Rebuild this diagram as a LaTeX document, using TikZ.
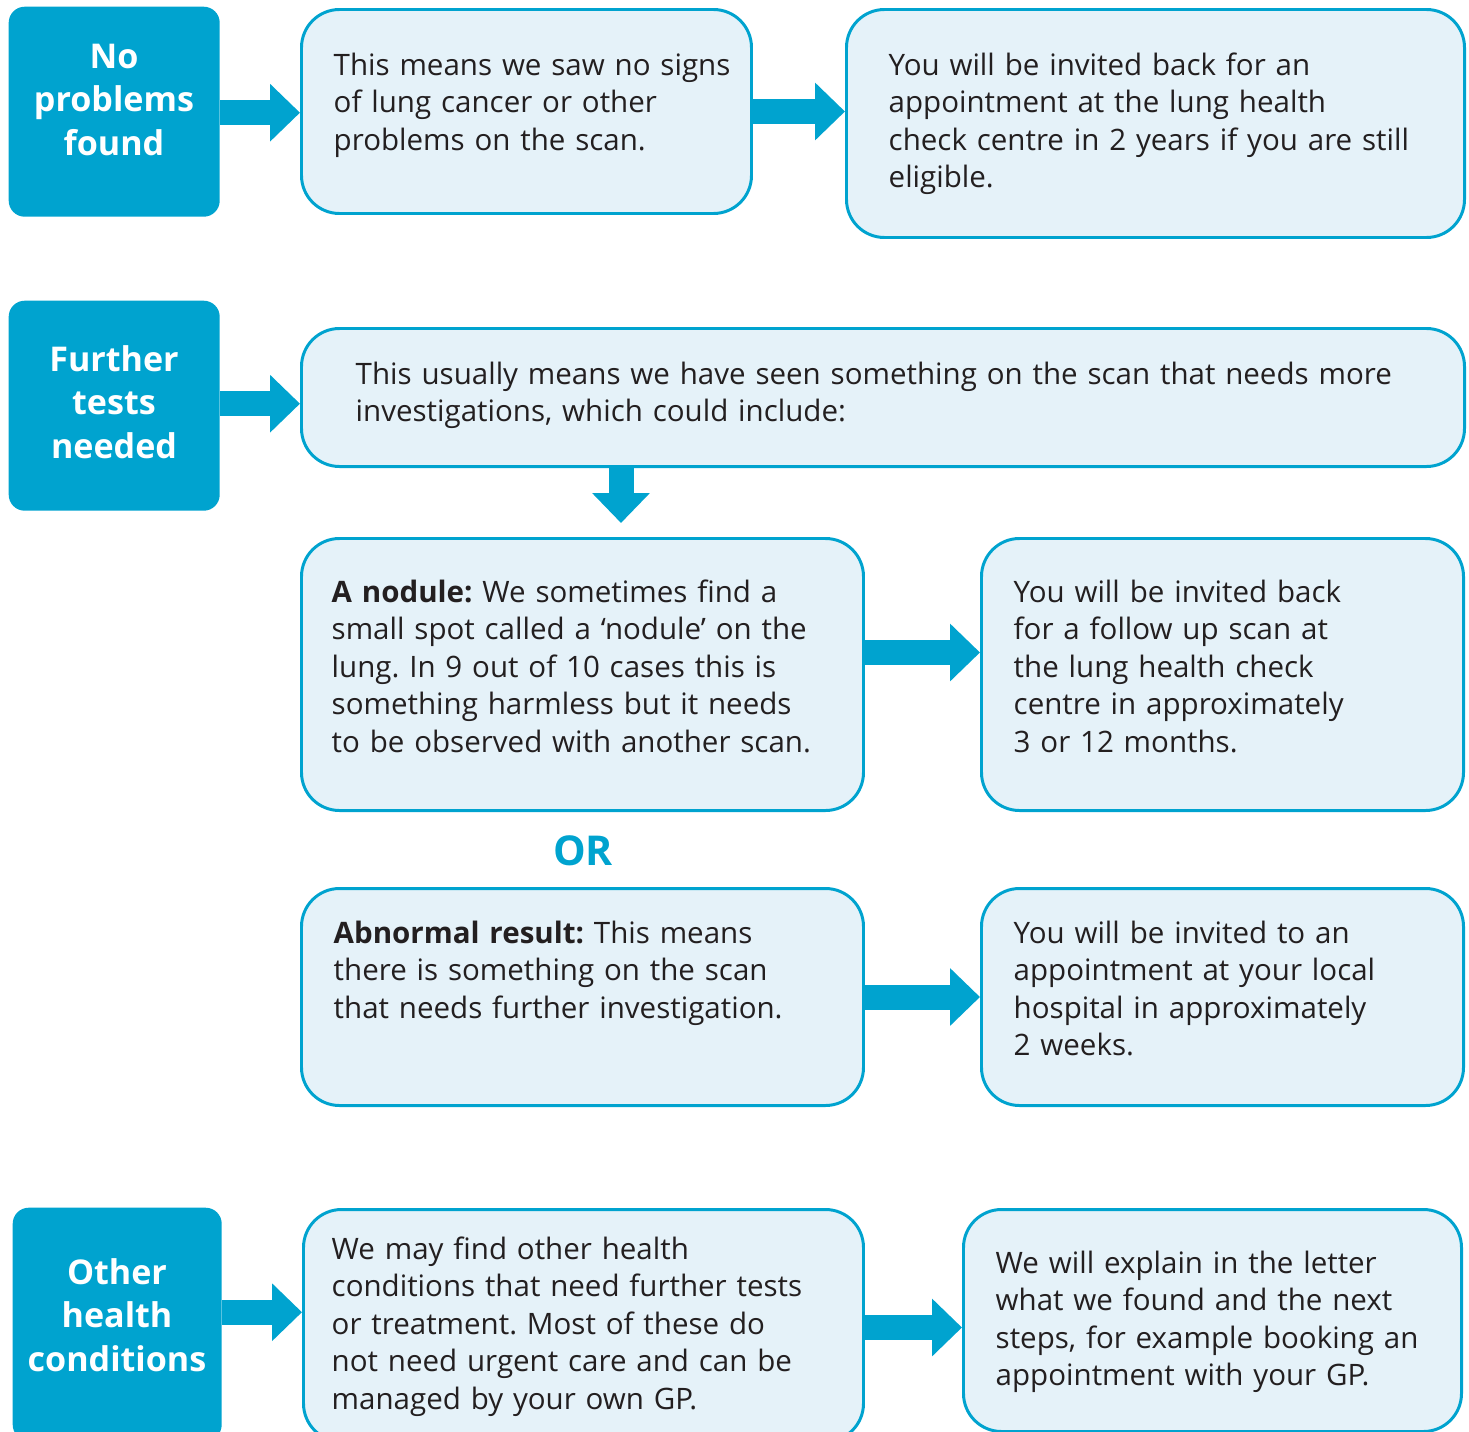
\documentclass[tikz,border=0pt]{standalone}
\usepackage{fontspec}
\setmainfont{Open Sans}
\frenchspacing
\usetikzlibrary{arrows.meta}
\definecolor{nhsblue}{RGB}{0,163,207}
\definecolor{nhspale}{RGB}{229,242,249}
\definecolor{ink}{RGB}{35,31,32}
\tikzset{
	lead/.style={fill=nhsblue, rounded corners=0.16cm, anchor=north west, inner sep=0pt},
	info/.style={draw=nhsblue, fill=nhspale, line width=0.85pt, rounded corners=0.38cm, anchor=north west, inner sep=0pt},
	leadtxt/.style={text=white, text width=2.05cm, align=center, anchor=base, inner sep=0pt, font=\fontsize{9.7}{12.4}\selectfont\bfseries},
	txt/.style={text=ink, align=left, anchor=base west, inner sep=0pt, font=\fontsize{8.4}{10.67}\selectfont},
	fat/.style={draw=nhsblue, line width=0.25cm, -{Triangle[length=0.30cm,width=0.56cm]}}
}
\begin{document}
\begin{tikzpicture}
		\clip (0,0) rectangle (14.69,-14.31);
		% row 1
		\node[lead, minimum width=2.11cm, minimum height=2.10cm] (d1) at (0.08,-0.06) {};
		\node[info, minimum width=4.50cm, minimum height=2.04cm] (b1) at (3.00,-0.08) {};
		\node[info, minimum width=6.18cm, minimum height=2.28cm] (b2) at (8.45,-0.08) {};
		% row 2
		\node[lead, minimum width=2.11cm, minimum height=2.10cm] (d2) at (0.08,-3.00) {};
		\node[info, minimum width=11.63cm, minimum height=1.38cm] (b3) at (3.00,-3.27) {};
		\node[info, minimum width=5.62cm, minimum height=2.72cm] (b4) at (3.00,-5.37) {};
		\node[info, minimum width=4.82cm, minimum height=2.72cm] (b5) at (9.80,-5.37) {};
		\node[info, minimum width=5.62cm, minimum height=2.17cm] (b6) at (3.00,-8.87) {};
		\node[info, minimum width=4.82cm, minimum height=2.17cm] (b7) at (9.80,-8.87) {};
		% row 3
		\node[lead, minimum width=2.09cm, minimum height=2.33cm] (d3) at (0.12,-12.07) {};
		\node[info, minimum width=5.60cm, minimum height=2.32cm] (b8) at (3.02,-12.08) {};
		\node[info, minimum width=4.98cm, minimum height=2.22cm] (b9) at (9.62,-12.08) {};

		% labels
		\node[leadtxt] (l1) at (1.14,-0.68) {No\\ problems\\ found};
		\node[leadtxt] (l2) at (1.14,-3.71) {Further\\ tests\\ needed};
		\node[leadtxt] (l3) at (1.17,-12.84) {Other\\ health\\ conditions};
		\node[text=nhsblue, font=\fontsize{11.7}{14}\selectfont\bfseries, anchor=base, inner sep=0pt] (or) at (5.83,-8.65) {OR};

		\node[txt, text width=4.10cm] (t1) at (3.33,-0.75) {This means we saw no signs\\ of lung cancer or other\\ problems on the scan.};
		\node[txt, text width=5.75cm] (t2) at (8.88,-0.75) {You will be invited back for an\\ appointment at the lung health\\ check centre in 2 years if you are still\\ eligible.};
		\node[txt, text width=10.90cm] (t3) at (3.55,-3.84) {This usually means we have seen something on the scan that needs more\\ investigations, which could include:};
		\node[txt, text width=5.20cm] (t4) at (3.31,-6.02) {\textbf{A nodule:} We sometimes find a\\ small spot called a ‘nodule’ on the\\ lung. In 9 out of 10 cases this is\\ something harmless but it needs\\ to be observed with another scan.};
		\node[txt, text width=4.40cm] (t5) at (10.13,-6.02) {You will be invited back\\ for a follow up scan at\\ the lung health check\\ centre in approximately\\ 3 or 12 months.};
		\node[txt, text width=5.20cm] (t6) at (3.33,-9.43) {\textbf{Abnormal result:} This means\\ there is something on the scan\\ that needs further investigation.};
		\node[txt, text width=4.40cm] (t7) at (10.13,-9.43) {You will be invited to an\\ appointment at your local\\ hospital in approximately\\ 2 weeks.};
		\node[txt, text width=5.20cm] (t8) at (3.31,-12.59) {We may find other health\\ conditions that need further tests\\ or treatment. Most of these do\\ not need urgent care and can be\\ managed by your own GP.};
		\node[txt, text width=4.60cm] (t9) at (9.95,-12.73) {We will explain in the letter\\ what we found and the next\\ steps, for example booking an\\ appointment with your GP.};

		% arrows
		\coordinate (dn) at (6.21,0);
		\draw[fat] ([yshift=-0.01cm]d1.east) -- ([yshift=-0.01cm]d1.east -| b1.west);
		\draw[fat] (b1.east) -- (b1.east -| b2.west);
		\draw[fat] ([yshift=0.02cm]d2.east) -- ([yshift=0.02cm]d2.east -| b3.west);
		\draw[fat] (b3.south -| dn) -- ([yshift=0.14cm]b4.north -| dn);
		\draw[fat] ([yshift=0.22cm]b4.east) -- ([yshift=0.22cm]b4.east -| b5.west);
		\draw[fat] (b6.east) -- (b6.east -| b7.west);
		\draw[fat] ([yshift=0.12cm]d3.east) -- ([yshift=0.12cm]d3.east -| b8.west);
		\draw[fat] ([yshift=-0.02cm]b8.east) -- ([yshift=-0.02cm]b8.east -| b9.west);
\end{tikzpicture}
\end{document}
